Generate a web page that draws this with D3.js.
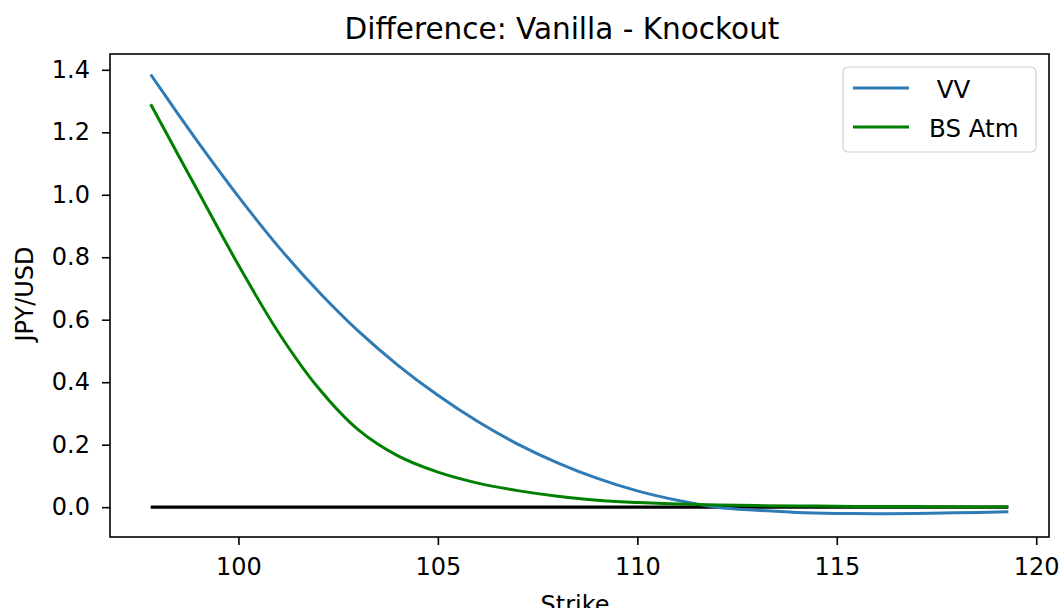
<!DOCTYPE html>
<html>
<head>
<meta charset="utf-8">
<script src="https://cdn.jsdelivr.net/npm/d3@7"></script>
<style>
  body { margin: 0; background: #fff; }
  text { font-family: "DejaVu Sans", sans-serif; fill: #000; }
</style>
</head>
<body>
<div id="chart"></div>
<script>
// Data
const strikes = [97.8, 98.5, 99, 100, 101, 102, 103, 104, 105, 106, 107, 108, 109, 110, 111, 112, 113, 114, 115, 116, 117, 118, 119.3];
const vvDiff = [1.385, 1.256, 1.166, 0.994, 0.834, 0.691, 0.564, 0.454, 0.358, 0.274, 0.202, 0.142, 0.092, 0.052, 0.022, 0.0, -0.010, -0.017, -0.020, -0.021, -0.020, -0.018, -0.015];
const bsDiff = [1.29, 1.125, 1.008, 0.775, 0.56, 0.382, 0.248, 0.164, 0.112, 0.077, 0.053, 0.035, 0.022, 0.015, 0.010, 0.007, 0.005, 0.004, 0.003, 0.002, 0.002, 0.001, 0.001];
const zeroLine = strikes.map(() => 0);
const xTicks = [100, 105, 110, 115, 120];
const yTicks = [0.0, 0.2, 0.4, 0.6, 0.8, 1.0, 1.2, 1.4];
const seriesNames = [" VV", "BS Atm"];
const seriesColors = ["#2f7bb6", "#008000"];

const app = () => {
    const width = 1060, height = 608;
    const plot = { left: 110, right: 1049, top: 54, bottom: 537 };

    const svg = d3.select("#chart").append("svg")
        .attr("width", width)
        .attr("height", height);

    const x = d3.scaleLinear().domain([96.78, 120.32]).range([plot.left, plot.right]);
    const y = d3.scaleLinear().domain([-0.0955, 1.4506]).range([plot.bottom, plot.top]);

    const line = (vals) => d3.line()
        .x((d, i) => x(strikes[i]))
        .y(d => y(d))
        .curve(d3.curveCatmullRom.alpha(0.5))(vals);

    // zero line first, then the two series
    svg.append("path").attr("d", line(zeroLine))
        .attr("fill", "none").attr("stroke", "#000").attr("stroke-width", 3.4);
    svg.append("path").attr("d", line(vvDiff))
        .attr("fill", "none").attr("stroke", seriesColors[0]).attr("stroke-width", 3);
    svg.append("path").attr("d", line(bsDiff))
        .attr("fill", "none").attr("stroke", seriesColors[1]).attr("stroke-width", 3);

    // axes
    const xAxis = svg.append("g")
        .attr("transform", `translate(0,${plot.bottom})`)
        .call(d3.axisBottom(x).tickValues(xTicks).tickSize(8).tickPadding(13).tickFormat(d3.format("d")));
    const yAxis = svg.append("g")
        .attr("transform", `translate(${plot.left},0)`)
        .call(d3.axisLeft(y).tickValues(yTicks).tickSize(8).tickPadding(12).tickFormat(d3.format(".1f")));

    [xAxis, yAxis].forEach(g => {
        g.select(".domain").remove();
        g.selectAll(".tick line").attr("stroke", "#000").attr("stroke-width", 1.6);
        g.selectAll(".tick text").style("font-size", "24px").attr("fill", "#000");
    });

    // frame
    svg.append("rect")
        .attr("x", plot.left).attr("y", plot.top)
        .attr("width", plot.right - plot.left).attr("height", plot.bottom - plot.top)
        .attr("fill", "none").attr("stroke", "#000").attr("stroke-width", 1.6);

    // title and labels
    svg.append("text")
        .attr("x", 562).attr("y", 39)
        .attr("text-anchor", "middle")
        .style("font-size", "29.5px")
        .text("Difference: Vanilla - Knockout");

    svg.append("text")
        .attr("x", 575).attr("y", 613)
        .attr("text-anchor", "middle")
        .style("font-size", "24px")
        .text("Strike");

    svg.append("text")
        .attr("transform", "translate(33,294) rotate(-90)")
        .attr("text-anchor", "middle")
        .style("font-size", "24px")
        .text("JPY/USD");

    // legend
    const legend = svg.append("g");
    legend.append("rect")
        .attr("x", 843).attr("y", 67)
        .attr("width", 193).attr("height", 85)
        .attr("rx", 5)
        .attr("fill", "#fff").attr("stroke", "#d0d0d0").attr("stroke-width", 1.2);

    seriesNames.forEach((name, i) => {
        const ly = 88 + i * 39;
        legend.append("line")
            .attr("x1", 853).attr("x2", 909)
            .attr("y1", ly).attr("y2", ly)
            .attr("stroke", seriesColors[i]).attr("stroke-width", 3);
        legend.append("text")
            .attr("x", 929).attr("y", ly + 9.5)
            .style("font-size", "24.5px")
            .style("white-space", "pre")
            .text(name);
    });
};

app();
</script>
</body>
</html>
